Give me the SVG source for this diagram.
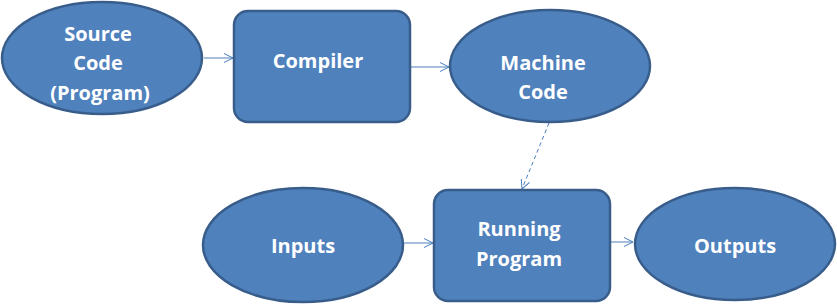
<svg xmlns="http://www.w3.org/2000/svg" width="837" height="305" viewBox="0 0 837 305">
<style>
.n{fill:#4F81BD;stroke:#385D8A;stroke-width:2.5}
.t{fill:#fff;font-family:"Open Sans","Liberation Sans",sans-serif;font-weight:bold;font-size:20px;text-anchor:middle}
.c{fill:none;stroke:#4A7EBB;stroke-width:1;marker-end:url(#a)}
</style>
<defs>
<marker id="a" markerWidth="12" markerHeight="12" refX="10" refY="5" orient="auto" markerUnits="userSpaceOnUse">
<path d="M1,0.5 L10,5 L1,9.5" fill="none" stroke="#4A7EBB" stroke-width="1"/>
</marker>
</defs>
<rect width="837" height="305" fill="#fff"/>
<g id="connectors">
<line class="c" x1="204" y1="58" x2="233" y2="58"/>
<line class="c" x1="411" y1="67" x2="449" y2="67"/>
<line class="c" x1="549" y1="123" x2="522" y2="189" stroke-dasharray="4,3"/>
<line class="c" x1="404" y1="243" x2="433" y2="243"/>
<line class="c" x1="611" y1="242" x2="633" y2="242"/>
</g>
<g id="source">
<ellipse class="n" cx="102" cy="58" rx="100" ry="56"/>
<text class="t" x="98" y="41">Source</text>
<text class="t" x="98" y="70">Code</text>
<text class="t" x="100" y="100">(Program)</text>
</g>
<g id="compiler">
<rect class="n" x="234" y="11" width="176" height="111" rx="14"/>
<text class="t" x="318" y="68">Compiler</text>
</g>
<g id="machine">
<ellipse class="n" cx="550" cy="66" rx="100" ry="56"/>
<text class="t" x="543" y="70">Machine</text>
<text class="t" x="543" y="99">Code</text>
</g>
<g id="inputs">
<ellipse class="n" cx="303" cy="245" rx="100" ry="57"/>
<text class="t" x="303" y="253">Inputs</text>
</g>
<g id="running">
<rect class="n" x="434" y="190" width="176" height="111" rx="14"/>
<text class="t" x="519" y="236">Running</text>
<text class="t" x="519" y="266">Program</text>
</g>
<g id="outputs">
<ellipse class="n" cx="735" cy="244" rx="100" ry="56"/>
<text class="t" x="735" y="253">Outputs</text>
</g>
</svg>
